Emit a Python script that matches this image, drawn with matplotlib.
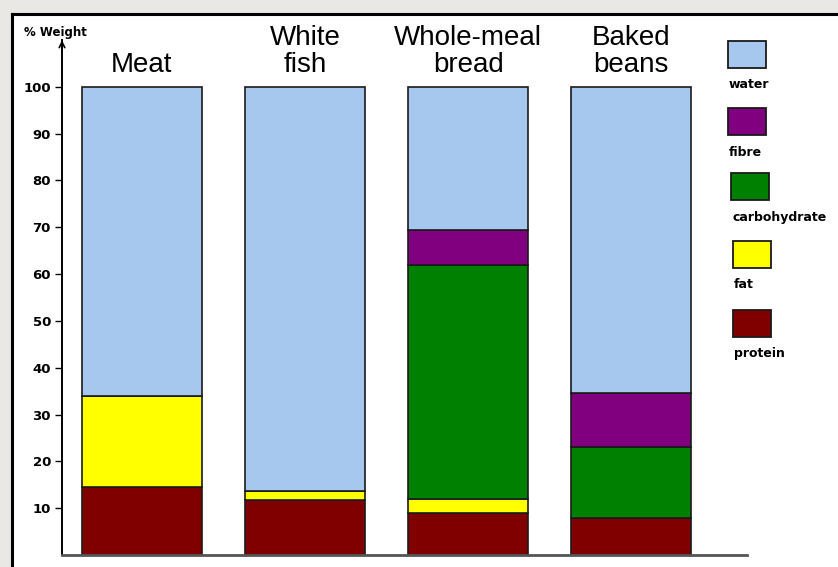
import numpy as np
import matplotlib
matplotlib.use("Agg")
import matplotlib.pyplot as plt
from matplotlib.patches import Rectangle

# values (% weight)
foods = ['Meat', 'White\nfish', 'Whole-meal\nbread', 'Baked\nbeans']
protein = [14.5, 11.7, 9.0, 8.0]
fat = [19.5, 2.0, 3.0, 0.0]
carbohydrate = [0.0, 0.0, 50.0, 15.0]
fibre = [0.0, 0.0, 7.4, 11.6]
water = [66.0, 86.3, 30.6, 65.4]

parts = ['protein', 'fat', 'carbohydrate', 'fibre', 'water']
colours = {'water': '#a6c8ee', 'fibre': '#800080', 'carbohydrate': '#008000',
           'fat': '#ffff00', 'protein': '#800000'}
series = {'protein': protein, 'fat': fat, 'carbohydrate': carbohydrate,
          'fibre': fibre, 'water': water}
yticks = [10, 20, 30, 40, 50, 60, 70, 80, 90, 100]

W, H = 838, 567
fig = plt.figure(figsize=(W / 100, H / 100), dpi=100)
fig.patch.set_facecolor('#e9e8e5')

# background panel in pixel units
bg = fig.add_axes([0, 0, 1, 1], zorder=0)
bg.set_xlim(0, W)
bg.set_ylim(H, 0)
bg.axis('off')
bg.add_patch(Rectangle((12, 14), W - 12, H - 14, facecolor='white', edgecolor='none'))
bg.plot([12, W], [14, 14], color='black', lw=2.2)
bg.plot([12, 12], [14, H], color='black', lw=2.2)

# legend: boxes with labels underneath
leg_boxes = [('water', 728, 41), ('fibre', 728, 108), ('carbohydrate', 731, 173),
             ('fat', 733, 241), ('protein', 733, 310)]
for name, lx, ly in leg_boxes:
    bg.add_patch(Rectangle((lx, ly), 38, 27, facecolor=colours[name],
                           edgecolor='#1a1a1a', lw=1.3))
    bg.text(lx + 1, ly + 44, name, fontsize=9, fontweight='bold',
            ha='left', va='center', color='black')

# main chart
ax = fig.add_axes([62 / W, (H - 555) / H, (747 - 62) / W, (555 - 40) / H], zorder=1)
ax.patch.set_alpha(0)
x = np.arange(len(foods))
bottom = np.zeros(len(foods))
for p in parts:
    vals = np.array(series[p])
    ax.bar(x, vals, bottom=bottom, width=0.736, color=colours[p],
           edgecolor='#1a1a1a', linewidth=1.2, zorder=2)
    bottom += vals

for xi, name in zip(x, foods):
    ax.text(xi, 101.8, name, ha='center', va='bottom', fontsize=20,
            family='Liberation Sans', linespacing=1.08)

ax.set_xlim(-0.49, 3.71)
ax.set_ylim(0, 110)
ax.set_xticks([])
ax.set_yticks(yticks)
ax.set_yticklabels([str(v) for v in yticks], fontweight='bold', fontsize=9.5)
ax.tick_params(axis='y', length=5, width=1, pad=3, color='black')
for s in ['top', 'right']:
    ax.spines[s].set_visible(False)
ax.spines['left'].set_linewidth(1.4)
ax.spines['bottom'].set_linewidth(2)
ax.spines['bottom'].set_color('#555555')
ax.annotate('', xy=(0, 1.005), xytext=(0, 0.97), xycoords='axes fraction',
            arrowprops=dict(arrowstyle='->', color='black', lw=1.2))
ax.text(-0.055, 1.015, '% Weight', transform=ax.transAxes, fontsize=8.5,
        fontweight='bold', ha='left', va='center')

fig.savefig('out.png', dpi=100, facecolor=fig.get_facecolor())
